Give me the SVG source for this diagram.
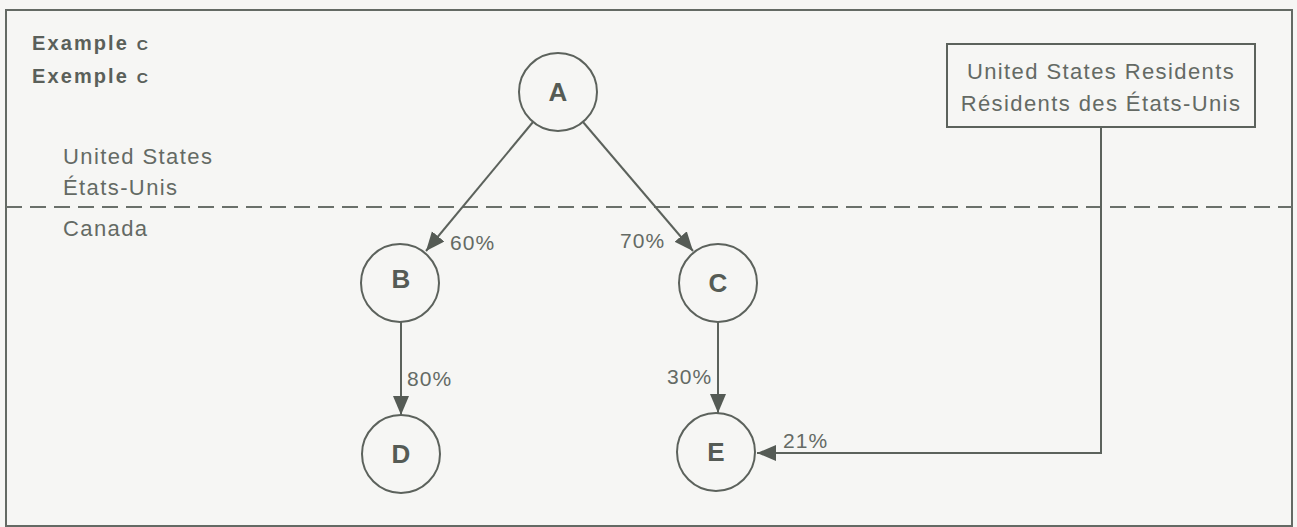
<svg xmlns="http://www.w3.org/2000/svg" width="1297" height="527" viewBox="0 0 1297 527">
<style>
  .bg{fill:#f6f6f4}
  .frame{fill:none;stroke:#646a64;stroke-width:2}
  .node circle{fill:none;stroke:#5c625c;stroke-width:2}
  .node text.lbl{font-family:"Liberation Sans",Arial,sans-serif;font-weight:bold;font-size:26px;fill:#555b55;text-anchor:middle}
  .t{font-family:"Liberation Sans",Arial,sans-serif;font-size:22px;fill:#646a64;letter-spacing:1.4px}
  .tb{font-family:"Liberation Sans",Arial,sans-serif;font-size:20px;font-weight:bold;fill:#5a605a;letter-spacing:2.1px}
  .pct{font-family:"Liberation Sans",Arial,sans-serif;font-size:21px;fill:#646a64;letter-spacing:1.1px}
  .edge{fill:none;stroke:#5c625c;stroke-width:2}
  .dash{fill:none;stroke:#6a706a;stroke-width:2;stroke-dasharray:16 8}
  .box{fill:none;stroke:#5c625c;stroke-width:2}
</style>
<defs>
  <marker id="arr" markerUnits="userSpaceOnUse" markerWidth="20" markerHeight="18" refX="19" refY="8" orient="auto">
    <path d="M0,0 L19,8 L0,16 Z" fill="#555b55"/>
  </marker>
</defs>
<rect class="bg" x="0" y="0" width="1297" height="527"/>
<rect class="frame" x="6" y="10" width="1286" height="516"/>
<line class="dash" x1="6" y1="207" x2="1292" y2="207"/>

<g id="titles">
  <text class="tb" x="32" y="50">Example <tspan font-size="15.5">C</tspan></text>
  <text class="tb" x="32" y="83">Exemple <tspan font-size="15.5">C</tspan></text>
  <text class="t" x="63" y="164">United States</text>
  <text class="t" x="63" y="195">États-Unis</text>
  <text class="t" x="63" y="236">Canada</text>
</g>

<g id="connectors">
  <line class="edge" x1="533" y1="122" x2="426" y2="251" marker-end="url(#arr)"/>
  <line class="edge" x1="583" y1="122" x2="693" y2="251" marker-end="url(#arr)"/>
  <line class="edge" x1="401" y1="322" x2="401" y2="415" marker-end="url(#arr)"/>
  <line class="edge" x1="718" y1="322" x2="718" y2="413" marker-end="url(#arr)"/>
  <path class="edge" d="M1101,127 V453 H757" marker-end="url(#arr)"/>
  <text class="pct" x="450" y="250">60%</text>
  <text class="pct" x="620" y="248">70%</text>
  <text class="pct" x="407" y="386">80%</text>
  <text class="pct" x="667" y="384">30%</text>
  <text class="pct" x="783" y="448">21%</text>
</g>

<g id="node-A" class="node"><circle cx="558" cy="92" r="39"/><text class="lbl" x="558" y="101">A</text></g>
<g id="node-B" class="node"><circle cx="400" cy="283" r="39"/><text class="lbl" x="401" y="288">B</text></g>
<g id="node-C" class="node"><circle cx="718" cy="283" r="39"/><text class="lbl" x="718" y="292">C</text></g>
<g id="node-D" class="node"><circle cx="401" cy="454" r="39"/><text class="lbl" x="401" y="463">D</text></g>
<g id="node-E" class="node"><circle cx="716" cy="452" r="39"/><text class="lbl" x="716" y="461">E</text></g>

<g id="node-residents">
  <rect class="box" x="947" y="44" width="308" height="83"/>
  <text class="t" x="1101" y="79" text-anchor="middle">United States Residents</text>
  <text class="t" x="1101" y="111" text-anchor="middle">Résidents des États-Unis</text>
</g>
</svg>
